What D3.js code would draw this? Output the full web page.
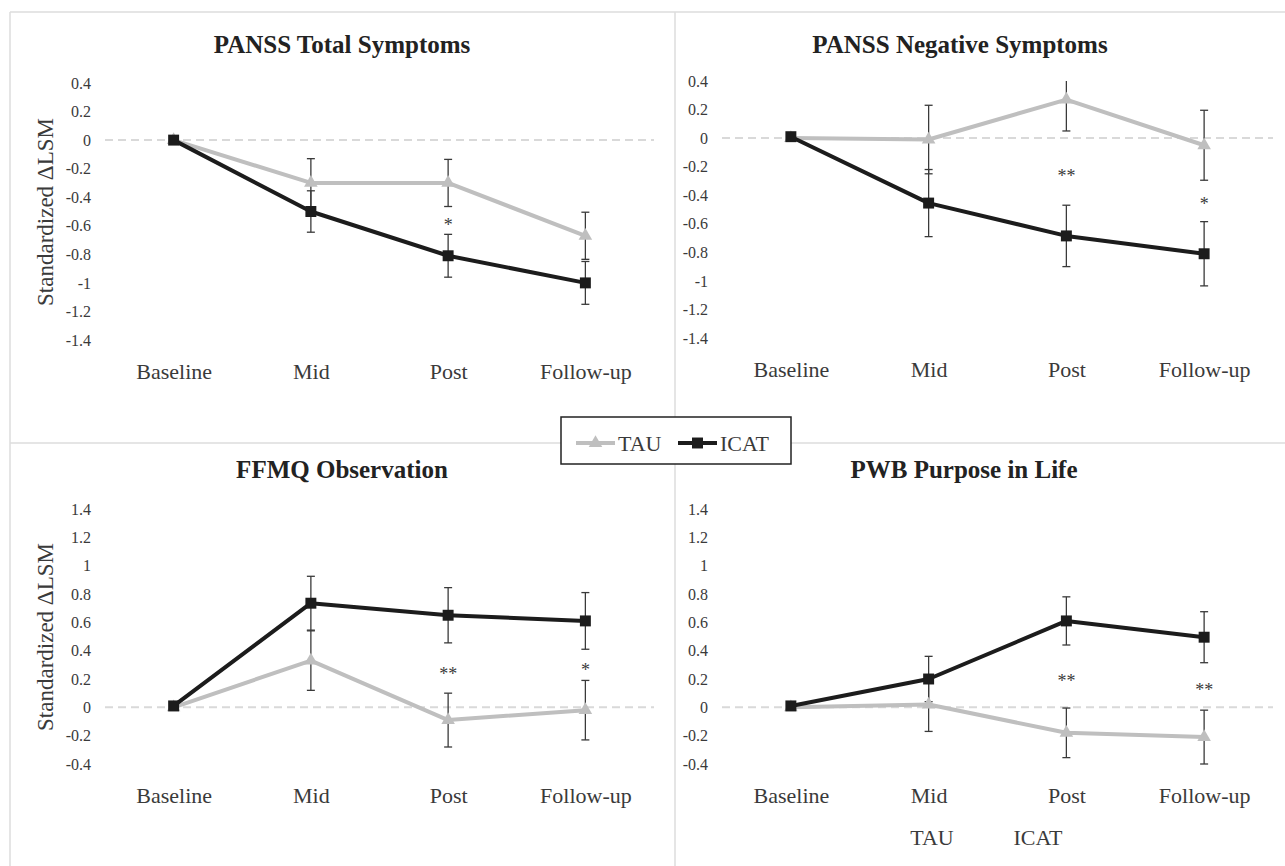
<!DOCTYPE html>
<html>
<head>
<meta charset="utf-8">
<script src="https://cdn.jsdelivr.net/npm/d3@7"></script>
<style>
	body { margin: 0; background: #ffffff; }
	svg { display: block; }
</style>
</head>
<body>
<svg id="chart" width="1285" height="866"></svg>
<script>

//############
//### data ###
//############
var categories = ["Baseline", "Mid", "Post", "Follow-up"];
var groupNames = ["TAU", "ICAT"];

var panelTitles = [
	"PANSS Total Symptoms",
	"PANSS Negative Symptoms",
	"FFMQ Observation",
	"PWB Purpose in Life"
];
var yAxisTitle = "Standardized \u0394LSM";

// tick labels, top row (symptoms) and bottom row (mindfulness / wellbeing)
var symptomTicks = [0.4, 0.2, 0, -0.2, -0.4, -0.6, -0.8, -1, -1.2, -1.4];
var wellbeingTicks = [1.4, 1.2, 1, 0.8, 0.6, 0.4, 0.2, 0, -0.2, -0.4];

// PANSS total
var panssTotalTAU = [0, -0.30, -0.30, -0.67];
var panssTotalTAUError = [0, 0.17, 0.165, 0.165];
var panssTotalICAT = [0, -0.50, -0.81, -1.00];
var panssTotalICATError = [0, 0.145, 0.15, 0.15];
var panssTotalStars = ["", "", "*", ""];
var panssTotalStarLevel = [0, 0, -0.575, 0];

// PANSS negative
var panssNegativeTAU = [0, -0.01, 0.27, -0.05];
var panssNegativeTAUError = [0, 0.24, 0.22, 0.245];
var panssNegativeICAT = [0.01, -0.455, -0.685, -0.81];
var panssNegativeICATError = [0, 0.235, 0.215, 0.225];
var panssNegativeStars = ["", "", "**", "*"];
var panssNegativeStarLevel = [0, 0, -0.245, -0.44];

// FFMQ observation
var ffmqTAU = [0, 0.33, -0.09, -0.02];
var ffmqTAUError = [0, 0.21, 0.19, 0.21];
var ffmqICAT = [0.01, 0.735, 0.65, 0.61];
var ffmqICATError = [0, 0.19, 0.195, 0.2];
var ffmqStars = ["", "", "**", "*"];
var ffmqStarLevel = [0, 0, 0.256, 0.285];

// PWB purpose in life
var pwbTAU = [0, 0.02, -0.18, -0.21];
var pwbTAUError = [0, 0.19, 0.175, 0.19];
var pwbICAT = [0.01, 0.20, 0.61, 0.495];
var pwbICATError = [0, 0.16, 0.17, 0.18];
var pwbStars = ["", "", "**", "**"];
var pwbStarLevel = [0, 0, 0.206, 0.142];


//##############
//### layout ###
//##############
var panelLayout = [
	{left: 105, right: 654, top: 83, bottom: 340, titleX: 342, titleY: 53, yTitleY: 212},
	{left: 722, right: 1273, top: 81, bottom: 338, titleX: 960, titleY: 53, yTitleY: null},
	{left: 105, right: 654, top: 509, bottom: 764, titleX: 342, titleY: 478, yTitleY: 637},
	{left: 722, right: 1273, top: 509, bottom: 764, titleX: 964, titleY: 478, yTitleY: null}
];

var fontFamily = "'Liberation Serif', 'Times New Roman', serif";

var colors = {
	TAU: "#bfbfbf",
	ICAT: "#1c1c1c",
	errorBar: "#3a3a3a",
	text: "#3a3a3a",
	title: "#222222",
	border: "#dcdcdc",
	zeroLine: "#d9d9d9"
};


if(window.infovis == undefined){
	window.infovis = {};
}

(function(container){

/**
 * one small multiple: two series with error bars over four time points
 */
container.ChangePanel = function(svg, layout, panel){

	this._svg = svg;
	this._layout = layout;
	this._panel = panel;

	this._setUpScales();
	this._drawText();
	this._drawAxes();
	this._drawErrorBars();
	this._drawSeries();
	this._drawStars();

	return this;
}

container.ChangePanel.prototype._setUpScales = function(){

	var l = this._layout;
	var ticks = this._panel.ticks;

	this._x = d3.scalePoint()
		.domain(categories)
		.range([l.left, l.right])
		.padding(0.5);

	this._y = d3.scaleLinear()
		.domain([d3.min(ticks), d3.max(ticks)])
		.range([l.bottom, l.top]);

	this._group = this._svg.append("g")
		.attr("class", "panel")
		.style("font-family", fontFamily);

	var clipId = "clip-" + this._panel.id;
	this._svg.append("clipPath")
		.attr("id", clipId)
		.append("rect")
			.attr("x", l.left - 20)
			.attr("y", l.top)
			.attr("width", l.right - l.left + 40)
			.attr("height", l.bottom - l.top + 30);
	this._clipUrl = "url(#" + clipId + ")";
}

container.ChangePanel.prototype._drawText = function(){

	var l = this._layout;

	this._group.append("text")
		.attr("x", l.titleX)
		.attr("y", l.titleY)
		.attr("text-anchor", "middle")
		.attr("font-size", 25)
		.attr("font-weight", "bold")
		.attr("fill", colors.title)
		.text(this._panel.title);

	if(l.yTitleY != null){
		this._group.append("text")
			.attr("transform", "translate(" + 53 + "," + l.yTitleY + ") rotate(-90)")
			.attr("text-anchor", "middle")
			.attr("font-size", 23)
			.attr("fill", colors.text)
			.text(yAxisTitle);
	}
}

container.ChangePanel.prototype._drawAxes = function(){

	var l = this._layout;
	var y = this._y;

	var yAxis = d3.axisLeft(y)
		.tickValues(this._panel.ticks)
		.tickSize(0)
		.tickPadding(14)
		.tickFormat(function(d){ return String(d); });

	this._group.append("g")
		.attr("transform", "translate(" + l.left + ",0)")
		.call(yAxis)
		.call(function(g){ g.select(".domain").remove(); })
		.attr("font-family", null)
		.style("font-family", fontFamily)
		.attr("font-size", 16)
		.selectAll("text")
			.attr("fill", colors.text);

	var xAxis = d3.axisBottom(this._x)
		.tickSize(0)
		.tickPadding(23);

	this._group.append("g")
		.attr("transform", "translate(0," + l.bottom + ")")
		.call(xAxis)
		.call(function(g){ g.select(".domain").remove(); })
		.attr("font-family", null)
		.style("font-family", fontFamily)
		.attr("font-size", 22)
		.selectAll("text")
			.attr("fill", colors.text);

	// dashed zero line, the category axis crossing
	this._group.append("line")
		.attr("x1", l.left)
		.attr("x2", l.right)
		.attr("y1", y(0))
		.attr("y2", y(0))
		.attr("stroke", colors.zeroLine)
		.attr("stroke-width", 2)
		.attr("stroke-dasharray", "8,5");
}

container.ChangePanel.prototype._drawErrorBars = function(){

	var x = this._x;
	var y = this._y;
	var capHalf = 4;

	var bars = this._group.append("g")
		.attr("clip-path", this._clipUrl)
		.attr("stroke", colors.errorBar)
		.attr("stroke-width", 1.3)
		.attr("fill", "none");

	this._panel.series.forEach(function(s){

		var rows = categories.map(function(c, i){
			return {cat: c, value: s.values[i], error: s.errors[i]};
		}).filter(function(d){ return d.error > 0; });

		var bar = bars.selectAll(null)
			.data(rows)
			.enter()
			.append("g");

		bar.append("line")
			.attr("x1", function(d){ return x(d.cat); })
			.attr("x2", function(d){ return x(d.cat); })
			.attr("y1", function(d){ return y(d.value + d.error); })
			.attr("y2", function(d){ return y(d.value - d.error); });

		// caps
		[1, -1].forEach(function(sign){
			bar.append("line")
				.attr("x1", function(d){ return x(d.cat) - capHalf; })
				.attr("x2", function(d){ return x(d.cat) + capHalf; })
				.attr("y1", function(d){ return y(d.value + sign*d.error); })
				.attr("y2", function(d){ return y(d.value + sign*d.error); });
		});
	});
}

container.ChangePanel.prototype._drawSeries = function(){

	var x = this._x;
	var y = this._y;

	var line = d3.line()
		.x(function(d){ return x(d.cat); })
		.y(function(d){ return y(d.value); });

	var g = this._group;

	this._panel.series.forEach(function(s){

		var rows = categories.map(function(c, i){
			return {cat: c, value: s.values[i]};
		});

		g.append("path")
			.datum(rows)
			.attr("d", line)
			.attr("fill", "none")
			.attr("stroke", colors[s.name])
			.attr("stroke-width", 4)
			.attr("stroke-linejoin", "round");

		g.selectAll(null)
			.data(rows)
			.enter()
			.append("path")
				.attr("transform", function(d){ return "translate(" + x(d.cat) + "," + y(d.value) + ")"; })
				.attr("d", container.markerPath(s.name))
				.attr("fill", colors[s.name]);
	});
}

container.ChangePanel.prototype._drawStars = function(){

	var x = this._x;
	var y = this._y;
	var p = this._panel;

	var rows = categories.map(function(c, i){
		return {cat: c, stars: p.stars[i], level: p.starLevel[i]};
	}).filter(function(d){ return d.stars != ""; });

	this._group.selectAll(null)
		.data(rows)
		.enter()
		.append("text")
			.attr("x", function(d){ return x(d.cat); })
			.attr("y", function(d){ return y(d.level) + 9; })
			.attr("text-anchor", "middle")
			.attr("font-size", 18)
			.attr("fill", colors.text)
			.text(function(d){ return d.stars; });
}

container.markerPath = function(name){
	return name == "TAU"
		? d3.symbol().type(d3.symbolTriangle).size(80)()
		: d3.symbol().type(d3.symbolSquare).size(120)();
}

})(infovis);


//############
//### main ###
//############
var svg = d3.select("#chart");

// panel borders
var borders = svg.append("g")
	.attr("stroke", colors.border)
	.attr("stroke-width", 1.5);
borders.append("line").attr("x1", 10).attr("x2", 1285).attr("y1", 12).attr("y2", 12);
borders.append("line").attr("x1", 10).attr("x2", 10).attr("y1", 12).attr("y2", 866);
borders.append("line").attr("x1", 675).attr("x2", 675).attr("y1", 12).attr("y2", 866);
borders.append("line").attr("x1", 10).attr("x2", 1285).attr("y1", 443).attr("y2", 443);

var panels = [
	{id: "total", title: panelTitles[0], ticks: symptomTicks, stars: panssTotalStars, starLevel: panssTotalStarLevel,
		series: [
			{name: groupNames[0], values: panssTotalTAU, errors: panssTotalTAUError},
			{name: groupNames[1], values: panssTotalICAT, errors: panssTotalICATError}
		]},
	{id: "negative", title: panelTitles[1], ticks: symptomTicks, stars: panssNegativeStars, starLevel: panssNegativeStarLevel,
		series: [
			{name: groupNames[0], values: panssNegativeTAU, errors: panssNegativeTAUError},
			{name: groupNames[1], values: panssNegativeICAT, errors: panssNegativeICATError}
		]},
	{id: "ffmq", title: panelTitles[2], ticks: wellbeingTicks, stars: ffmqStars, starLevel: ffmqStarLevel,
		series: [
			{name: groupNames[0], values: ffmqTAU, errors: ffmqTAUError},
			{name: groupNames[1], values: ffmqICAT, errors: ffmqICATError}
		]},
	{id: "pwb", title: panelTitles[3], ticks: wellbeingTicks, stars: pwbStars, starLevel: pwbStarLevel,
		series: [
			{name: groupNames[0], values: pwbTAU, errors: pwbTAUError},
			{name: groupNames[1], values: pwbICAT, errors: pwbICATError}
		]}
];

panels.forEach(function(p, i){
	new infovis.ChangePanel(svg, panelLayout[i], p);
});

// shared legend over the middle of the grid
var legend = svg.append("g")
	.attr("class", "legend")
	.style("font-family", fontFamily);

legend.append("rect")
	.attr("x", 561)
	.attr("y", 417)
	.attr("width", 230)
	.attr("height", 47)
	.attr("fill", "#ffffff")
	.attr("stroke", "#222222")
	.attr("stroke-width", 1.5);

var legendX = d3.scaleOrdinal()
	.domain(groupNames)
	.range([576, 678]);

var legendItem = legend.selectAll("g.item")
	.data(groupNames)
	.enter()
	.append("g")
		.attr("class", "item")
		.attr("transform", function(d){ return "translate(" + legendX(d) + ",443)"; });

legendItem.append("line")
	.attr("x1", 0)
	.attr("x2", 39)
	.attr("stroke", function(d){ return colors[d]; })
	.attr("stroke-width", 4);

legendItem.append("path")
	.attr("transform", "translate(19.5,0)")
	.attr("d", function(d){ return infovis.markerPath(d); })
	.attr("fill", function(d){ return colors[d]; });

legendItem.append("text")
	.attr("x", 42)
	.attr("y", 7.5)
	.attr("font-size", 22)
	.attr("fill", colors.text)
	.text(function(d){ return d; });

// stray group labels under the last panel
var strayX = d3.scaleOrdinal()
	.domain(groupNames)
	.range([932, 1038]);

svg.append("g")
	.style("font-family", fontFamily)
	.selectAll("text")
	.data(groupNames)
	.enter()
	.append("text")
		.attr("x", function(d){ return strayX(d); })
		.attr("y", 845)
		.attr("text-anchor", "middle")
		.attr("font-size", 22)
		.attr("fill", colors.text)
		.text(function(d){ return d; });

</script>
</body>
</html>
